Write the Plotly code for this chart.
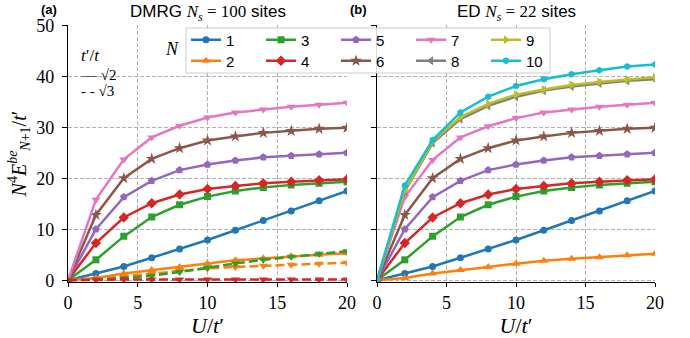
import plotly.graph_objects as go

# ---------------- data ----------------
U = [0, 2, 4, 6, 8, 10, 12, 14, 16, 18, 20]
N_values = [1, 2, 3, 4, 5, 6, 7, 8, 9, 10]

# ED, N_s = 22 sites (t'/t = sqrt2)
ED_N1 = [0, 1.3, 2.7, 4.4, 6.1, 7.9, 9.8, 11.7, 13.6, 15.6, 17.5]
ED_N2 = [0, 0.45, 1.3, 2.0, 2.6, 3.25, 3.8, 4.2, 4.5, 4.9, 5.2]
ED_N3 = [0, 4.0, 8.6, 12.4, 14.8, 16.4, 17.5, 18.2, 18.7, 19.0, 19.3]
ED_N4 = [0, 7.3, 12.3, 15.1, 16.8, 17.9, 18.5, 19.0, 19.3, 19.6, 19.8]
ED_N5 = [0, 10.0, 16.3, 19.5, 21.6, 22.7, 23.5, 24.1, 24.4, 24.7, 25.0]
ED_N6 = [0, 12.8, 20.0, 23.8, 25.9, 27.4, 28.2, 28.9, 29.3, 29.7, 29.9]
ED_N7 = [0, 16.3, 23.6, 28.0, 30.2, 31.8, 32.9, 33.5, 34.0, 34.4, 34.8]
ED_N8 = [0, 17.4, 26.9, 31.6, 34.2, 36.0, 37.2, 38.0, 38.6, 39.1, 39.4]
ED_N9 = [0, 17.6, 27.2, 32.0, 34.6, 36.4, 37.4, 38.3, 38.9, 39.4, 39.8]
ED_N10 = [0, 18.6, 27.5, 32.9, 36.0, 38.1, 39.4, 40.4, 41.2, 41.9, 42.3]

# DMRG, N_s = 100 sites, t'/t = sqrt2 (solid)
DM2_N1 = [0, 1.3, 2.7, 4.4, 6.1, 7.9, 9.8, 11.7, 13.6, 15.6, 17.5]
DM2_N2 = [0, 0.45, 1.3, 2.0, 2.6, 3.3, 3.9, 4.3, 4.7, 5.0, 5.3]
DM2_N3 = [0, 4.0, 8.6, 12.4, 14.8, 16.4, 17.5, 18.2, 18.7, 19.0, 19.3]
DM2_N4 = [0, 7.3, 12.3, 15.1, 16.8, 17.9, 18.5, 19.0, 19.3, 19.6, 19.8]
DM2_N5 = [0, 10.0, 16.3, 19.5, 21.6, 22.7, 23.5, 24.1, 24.4, 24.7, 25.0]
DM2_N6 = [0, 12.8, 20.0, 23.8, 25.9, 27.4, 28.2, 28.9, 29.3, 29.7, 29.9]
DM2_N7 = [0, 15.8, 23.7, 28.0, 30.3, 31.9, 32.9, 33.5, 34.0, 34.4, 34.8]

# DMRG, t'/t = sqrt3 (dashed)
DM3_N2 = [0, 0.3, 0.8, 1.3, 1.8, 2.3, 2.6, 2.85, 3.05, 3.25, 3.45]
DM3_N3 = [0, 0.1, 0.4, 0.9, 1.6, 2.5, 3.3, 4.0, 4.6, 5.2, 5.7]
DM3_N4 = [0, 0.1, 0.15, 0.15, 0.15, 0.15, 0.15, 0.15, 0.15, 0.15, 0.15]

ED = [ED_N1, ED_N2, ED_N3, ED_N4, ED_N5, ED_N6, ED_N7, ED_N8, ED_N9, ED_N10]
DM2 = [DM2_N1, DM2_N2, DM2_N3, DM2_N4, DM2_N5, DM2_N6, DM2_N7]
DM3 = {2: DM3_N2, 3: DM3_N3, 4: DM3_N4}

x_ticks = [0, 5, 10, 15, 20]
y_ticks = [0, 10, 20, 30, 40, 50]

# ---------------- styles ----------------
colors = ["#1f77b4", "#ff7f0e", "#2ca02c", "#d62728", "#9467bd",
          "#8c564b", "#e377c2", "#7f7f7f", "#bcbd22", "#17becf"]
symbols = ["circle", "triangle-up", "square", "diamond", "pentagon",
           "star", "triangle-down", "triangle-left", "triangle-right", "hexagon"]
msizes = [7, 8, 7, 8, 8, 9, 8, 8, 8, 7]

W, H = 690, 338
def px(x):
    return x / W
def py(y):
    return 1 - y / H

fig = go.Figure()

# left panel: solid (sqrt2)
for i, ys in enumerate(DM2):
    fig.add_trace(go.Scatter(
        x=U, y=ys, mode="lines+markers", xaxis="x", yaxis="y",
        line=dict(color=colors[i], width=2.5),
        marker=dict(symbol=symbols[i], size=msizes[i], color=colors[i]),
        showlegend=False))
# left panel: dashed (sqrt3)
for n, ys in DM3.items():
    fig.add_trace(go.Scatter(
        x=U, y=ys, mode="lines+markers", xaxis="x", yaxis="y",
        line=dict(color=colors[n - 1], width=2.5, dash="9px,4px"),
        marker=dict(symbol="triangle-down", size=8, color=colors[n - 1]),
        showlegend=False))
# right panel: ED
for i, ys in enumerate(ED):
    n = N_values[i]
    fig.add_trace(go.Scatter(
        x=U, y=ys, mode="lines+markers", xaxis="x2", yaxis="y2",
        name=str(n), legend="legend" if n % 2 == 1 else "legend2",
        line=dict(color=colors[i], width=2.5),
        marker=dict(symbol=symbols[i], size=msizes[i], color=colors[i]),
        showlegend=True))

serif = "Liberation Serif"
sans = "Liberation Sans"

axis_common = dict(
    range=[0, 20], tickvals=x_ticks, ticks="outside", ticklen=4, tickwidth=1,
    tickcolor="black", showline=True, linecolor="black", linewidth=1.3,
    showgrid=True, gridcolor="#b0b0b0", gridwidth=0.8, griddash="4px,2px",
    zeroline=False, tickfont=dict(family=serif, size=18, color="black"),
    automargin=False,
    title=dict(text="<i>U</i>/<i>t</i>′", font=dict(family=serif, size=22, color="black"),
               standoff=6),
)
yaxis_common = dict(
    range=[-0.35, 50], tickvals=y_ticks, ticks="outside", ticklen=5, tickwidth=1,
    tickcolor="black", showline=True, linecolor="black", linewidth=1.3,
    showgrid=True, gridcolor="#b0b0b0", gridwidth=0.8, griddash="4px,2px",
    zeroline=False, tickfont=dict(family=serif, size=18, color="black"),
    automargin=False, domain=[56 / H, 1 - 25.3 / H],
)

fig.update_layout(
    width=W, height=H,
    margin=dict(l=0, r=0, t=0, b=0),
    paper_bgcolor="white", plot_bgcolor="white",
    xaxis=dict(axis_common, domain=[px(68), px(347)], anchor="y"),
    xaxis2=dict(axis_common, domain=[px(377), px(655)], anchor="y2"),
    yaxis=dict(yaxis_common, anchor="x", ticklabelstandoff=4,
               title=dict(text="<i>N</i><sup>4</sup><i>E</i><sup><i>be</i></sup><sub><i>N</i>+1</sub>/<i>t</i>′",
                          font=dict(family=serif, size=20, color="black"), standoff=4)),
    yaxis2=dict(yaxis_common, anchor="x2", showticklabels=False),
    legend=dict(orientation="h", x=px(186), xanchor="left", y=py(40), yanchor="middle",
                bgcolor="rgba(0,0,0,0)", borderwidth=0, entrywidth=30, entrywidthmode="pixels",
                font=dict(family=sans, size=15, color="black"), itemclick=False),
    legend2=dict(orientation="h", x=px(186), xanchor="left", y=py(61), yanchor="middle",
                 bgcolor="rgba(0,0,0,0)", borderwidth=0, entrywidth=30, entrywidthmode="pixels",
                 font=dict(family=sans, size=15, color="black"), itemclick=False),
    shapes=[dict(type="rect", xref="paper", yref="paper",
                 x0=px(186), x1=px(550), y0=py(73), y1=py(28),
                 fillcolor="rgba(255,255,255,0.85)", line=dict(color="#cccccc", width=1),
                 layer="above")],
)

def note(text, x, y, family, size, xanchor="center"):
    return dict(text=text, x=px(x), y=py(y), xref="paper", yref="paper", showarrow=False,
                xanchor=xanchor, yanchor="middle",
                font=dict(family=family, size=size, color="black"))

ann = [
    note('DMRG <span style="font-family:Liberation Serif"><i>N<sub>s</sub></i> = 100</span> sites',
         208, 13, sans, 17),
    note('ED <span style="font-family:Liberation Serif"><i>N<sub>s</sub></i> = 22</span> sites',
         516, 13, sans, 17),
    note("<b>(a)</b>", 49, 9, sans, 13),
    note("<b>(b)</b>", 358, 9, sans, 13),
    note("<i>N</i>", 172, 49, serif, 18),
    note("<i>t</i>′/<i>t</i>", 79, 56, serif, 17, "left"),
    note("— √2", 79, 75, serif, 15, "left"),
    note("- - √3", 79, 91, serif, 15, "left"),
]
fig.update_layout(annotations=ann)

fig.write_html("out.html")
